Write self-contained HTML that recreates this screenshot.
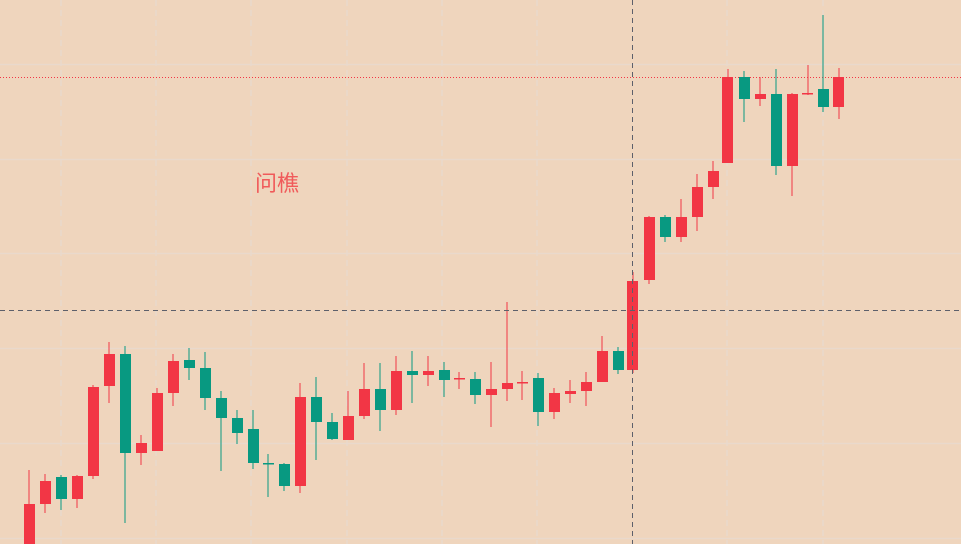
<!DOCTYPE html>
<html><head><meta charset="utf-8"><style>
html,body{margin:0;padding:0;background:#efd5bd;}
svg{display:block}
</style></head><body>
<svg width="961" height="544" viewBox="0 0 961 544" xmlns="http://www.w3.org/2000/svg">
<rect width="961" height="544" fill="#efd5bd"/>
<g stroke="#e9d9cc" stroke-width="1.5">
<line x1="0" y1="64.5" x2="961" y2="64.5"/><line x1="0" y1="159.5" x2="961" y2="159.5"/><line x1="0" y1="253.5" x2="961" y2="253.5"/><line x1="0" y1="348.5" x2="961" y2="348.5"/><line x1="0" y1="443.5" x2="961" y2="443.5"/><line x1="0" y1="538.5" x2="961" y2="538.5"/>
</g>
<g stroke="#e9d9cc" stroke-width="1.5" stroke-dasharray="6,4">
<line x1="61" y1="0" x2="61" y2="544"/><line x1="156" y1="0" x2="156" y2="544"/><line x1="251" y1="0" x2="251" y2="544"/><line x1="347" y1="0" x2="347" y2="544"/><line x1="442" y1="0" x2="442" y2="544"/><line x1="537" y1="0" x2="537" y2="544"/><line x1="727" y1="0" x2="727" y2="544"/><line x1="823" y1="0" x2="823" y2="544"/>
</g>
<line x1="0" y1="77.5" x2="961" y2="77.5" stroke="#f23645" stroke-width="1" stroke-dasharray="1,2"/>
<text x="255" y="191" font-family="Liberation Sans, Noto Sans CJK SC, sans-serif" font-size="22" fill="#f05a5a">问樵</text>
<g id="c">
<!-- red -->
<g fill="#f23645">
<rect x="28.5" y="470" width="1" height="74"/><rect x="24" y="504" width="11" height="40"/>
<rect x="44.5" y="474" width="1" height="39"/><rect x="40" y="481" width="11" height="23"/>
<rect x="76.5" y="475" width="1" height="33"/><rect x="72" y="476" width="11" height="23"/>
<rect x="92.5" y="385" width="1" height="94"/><rect x="88" y="387" width="11" height="89"/>
<rect x="108.5" y="342" width="1" height="61"/><rect x="104" y="354" width="11" height="32"/>
<rect x="140.5" y="435" width="1" height="30"/><rect x="136" y="443" width="11" height="10"/>
<rect x="156.5" y="388" width="1" height="63"/><rect x="152" y="393" width="11" height="58"/>
<rect x="172.5" y="354" width="1" height="52"/><rect x="168" y="361" width="11" height="32"/>
<rect x="299.5" y="383" width="1" height="110"/><rect x="295" y="397" width="11" height="89"/>
<rect x="347.5" y="391" width="1" height="49"/><rect x="343" y="416" width="11" height="24"/>
<rect x="363.5" y="363" width="1" height="56"/><rect x="359" y="389" width="11" height="27"/>
<rect x="395.5" y="356" width="1" height="59"/><rect x="391" y="371" width="11" height="39"/>
<rect x="427.5" y="356" width="1" height="30"/><rect x="423" y="371" width="11" height="4"/>
<rect x="458.5" y="372" width="1" height="17"/><rect x="454" y="378" width="11" height="1.5"/>
<rect x="490.5" y="362" width="1" height="65"/><rect x="486" y="389" width="11" height="6"/>
<rect x="506.5" y="302" width="1" height="99"/><rect x="502" y="383" width="11" height="6"/>
<rect x="521.5" y="371" width="1" height="29"/><rect x="517" y="382" width="11" height="1.5"/>
<rect x="553.5" y="388" width="1" height="31"/><rect x="549" y="393" width="11" height="19"/>
<rect x="569.5" y="380" width="1" height="23"/><rect x="565" y="391" width="11" height="3"/>
<rect x="585.5" y="372" width="1" height="34"/><rect x="581" y="382" width="11" height="9"/>
<rect x="601.5" y="336" width="1" height="46"/><rect x="597" y="351" width="11" height="31"/>
<rect x="632.5" y="272" width="1" height="101"/><rect x="627" y="281" width="11" height="89"/>
<rect x="648.5" y="216" width="1" height="68"/><rect x="644" y="217" width="11" height="63"/>
<rect x="680.5" y="199" width="1" height="43"/><rect x="676" y="217" width="11" height="20"/>
<rect x="696.5" y="174" width="1" height="57"/><rect x="692" y="187" width="11" height="30"/>
<rect x="712.5" y="161" width="1" height="38"/><rect x="708" y="171" width="11" height="16"/>
<rect x="727.5" y="69" width="1" height="94"/><rect x="722" y="77" width="11" height="86"/>
<rect x="759.5" y="77" width="1" height="29"/><rect x="755" y="94" width="11" height="5"/>
<rect x="791.5" y="93" width="1" height="103"/><rect x="787" y="94" width="11" height="72"/>
<rect x="807.5" y="65" width="1" height="30"/><rect x="802" y="93" width="11" height="1.5"/>
<rect x="838.5" y="68" width="1" height="51"/><rect x="833" y="77" width="11" height="30"/>
</g>
<g fill="#089981">
<rect x="60.5" y="475" width="1" height="35"/><rect x="56" y="477" width="11" height="22"/>
<rect x="124.5" y="346" width="1" height="177"/><rect x="120" y="354" width="11" height="99"/>
<rect x="188.5" y="348" width="1" height="32"/><rect x="184" y="360" width="11" height="8"/>
<rect x="204.5" y="352" width="1" height="58"/><rect x="200" y="368" width="11" height="30"/>
<rect x="220.5" y="391" width="1" height="80"/><rect x="216" y="398" width="11" height="20"/>
<rect x="236.5" y="410" width="1" height="34"/><rect x="232" y="418" width="11" height="15"/>
<rect x="252.5" y="410" width="1" height="59"/><rect x="248" y="429" width="11" height="34"/>
<rect x="267.5" y="454" width="1" height="43"/><rect x="263" y="463" width="11" height="1.5"/>
<rect x="283.5" y="463" width="1" height="28"/><rect x="279" y="464" width="11" height="22"/>
<rect x="315.5" y="377" width="1" height="83"/><rect x="311" y="397" width="11" height="25"/>
<rect x="331.5" y="413" width="1" height="27"/><rect x="327" y="422" width="11" height="17"/>
<rect x="379.5" y="363" width="1" height="68"/><rect x="375" y="389" width="11" height="21"/>
<rect x="411.5" y="351" width="1" height="52"/><rect x="407" y="371" width="11" height="4"/>
<rect x="443.5" y="362" width="1" height="35"/><rect x="439" y="370" width="11" height="10"/>
<rect x="474.5" y="372" width="1" height="32"/><rect x="470" y="379" width="11" height="16"/>
<rect x="537.5" y="373" width="1" height="53"/><rect x="533" y="378" width="11" height="34"/>
<rect x="617.5" y="347" width="1" height="27"/><rect x="613" y="351" width="11" height="19"/>
<rect x="664.5" y="215" width="1" height="27"/><rect x="660" y="217" width="11" height="20"/>
<rect x="743.5" y="71" width="1" height="51"/><rect x="739" y="77" width="11" height="22"/>
<rect x="775.5" y="69" width="1" height="106"/><rect x="771" y="94" width="11" height="72"/>
<rect x="822.5" y="15" width="1" height="97"/><rect x="818" y="89" width="11" height="18"/>
</g>
</g>
<g stroke="#5d606b" stroke-width="1" stroke-dasharray="5,4">
<line x1="0" y1="310.5" x2="961" y2="310.5"/>
<line x1="632.5" y1="0" x2="632.5" y2="544"/>
</g>
</svg>
</body></html>
